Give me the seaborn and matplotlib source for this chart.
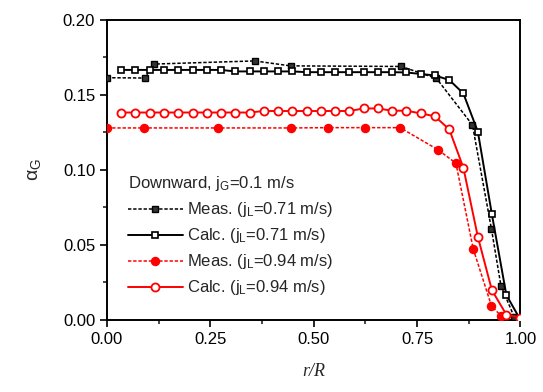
import matplotlib
matplotlib.use("Agg")
import matplotlib.pyplot as plt
import seaborn as sns
import pandas as pd
from matplotlib.ticker import MultipleLocator

# ---------------- data ----------------
calc_r = [0.034, 0.069, 0.103, 0.138, 0.172, 0.207, 0.241, 0.276, 0.310, 0.345,
          0.379, 0.414, 0.448, 0.483, 0.517, 0.552, 0.586, 0.621, 0.655, 0.690,
          0.724, 0.759, 0.793, 0.828, 0.862, 0.897, 0.931, 0.966, 1.000]
calc_071 = [0.1667, 0.1667, 0.1667, 0.1667, 0.1667, 0.1667, 0.1667, 0.1667, 0.1657, 0.1657,
            0.1657, 0.1657, 0.1657, 0.1652, 0.1652, 0.1652, 0.1652, 0.1652, 0.1652, 0.1652,
            0.1650, 0.1640, 0.1630, 0.1600, 0.1510, 0.1256, 0.0704, 0.0166, 0.0000]
calc_094 = [0.1383, 0.1383, 0.1383, 0.1383, 0.1383, 0.1383, 0.1383, 0.1383, 0.1383, 0.1383,
            0.1393, 0.1393, 0.1393, 0.1393, 0.1393, 0.1393, 0.1393, 0.1410, 0.1410, 0.1395,
            0.1395, 0.1377, 0.1358, 0.1270, 0.1015, 0.0555, 0.0198, 0.0035, 0.0015]
meas071_r = [0.0, 0.091, 0.113, 0.357, 0.444, 0.712, 0.797, 0.884, 0.930, 0.953, 0.985]
meas_071 = [0.1615, 0.1613, 0.1706, 0.1727, 0.1694, 0.1690, 0.1610, 0.1300, 0.0605, 0.0226, 0.0020]
meas094_r = [0.0, 0.090, 0.268, 0.446, 0.535, 0.624, 0.709, 0.801, 0.844, 0.886, 0.930, 0.953]
meas_094 = [0.1280, 0.1280, 0.1280, 0.1280, 0.1282, 0.1282, 0.1282, 0.1134, 0.1045, 0.0472, 0.0093, 0.0027]

labels = ["Meas. (j$_\\mathregular{L}$=0.71 m/s)", "Calc. (j$_\\mathregular{L}$=0.71 m/s)",
          "Meas. (j$_\\mathregular{L}$=0.94 m/s)", "Calc. (j$_\\mathregular{L}$=0.94 m/s)"]
legend_title = "Downward, j$_\\mathregular{G}$=0.1 m/s"
x_ticks = [0.00, 0.25, 0.50, 0.75, 1.00]
y_ticks = [0.00, 0.05, 0.10, 0.15, 0.20]

# ---------------- style ----------------
sns.set_style("ticks")
plt.rcParams["font.family"] = ["Liberation Sans", "DejaVu Sans"]
plt.rcParams["mathtext.fontset"] = "custom"
plt.rcParams["mathtext.rm"] = "Liberation Sans"
plt.rcParams["mathtext.it"] = "Liberation Sans:italic"

fig = plt.figure(figsize=(5.43, 3.92), dpi=100)
ax = fig.add_axes([0.197, 0.184, 0.7614, 0.765])

df_m71 = pd.DataFrame({"r": meas071_r, "a": meas_071})
df_c71 = pd.DataFrame({"r": calc_r, "a": calc_071})
df_m94 = pd.DataFrame({"r": meas094_r, "a": meas_094})
df_c94 = pd.DataFrame({"r": calc_r, "a": calc_094})

sns.lineplot(data=df_m71, x="r", y="a", ax=ax, sort=False, color="black", lw=1.1,
             linestyle=(0, (2.2, 1.2)), marker="s", markersize=4.0,
             markerfacecolor="#333333", markeredgecolor="black", markeredgewidth=1.0,
             label=labels[0], zorder=3)
sns.lineplot(data=df_c71, x="r", y="a", ax=ax, sort=False, color="black", lw=1.4,
             marker="s", markersize=4.3, markerfacecolor="white", markeredgecolor="black",
             markeredgewidth=1.2, label=labels[1], zorder=4)
sns.lineplot(data=df_m94, x="r", y="a", ax=ax, sort=False, color="red", lw=1.1,
             linestyle=(0, (2.2, 1.2)), marker="o", markersize=5.8,
             markerfacecolor="red", markeredgecolor="red", markeredgewidth=1.0,
             label=labels[2], zorder=3)
sns.lineplot(data=df_c94, x="r", y="a", ax=ax, sort=False, color="red", lw=1.4,
             marker="o", markersize=5.8, markerfacecolor="white", markeredgecolor="red",
             markeredgewidth=1.3, label=labels[3], zorder=4)

ax.set_xlim(0, 1.0)
ax.set_ylim(0, 0.20)
ax.set_xticks(x_ticks)
ax.set_yticks(y_ticks)
ax.set_xticklabels([f"{v:.2f}" for v in x_ticks])
ax.set_yticklabels([f"{v:.2f}" for v in y_ticks])
ax.xaxis.set_minor_locator(MultipleLocator(0.125))
ax.yaxis.set_minor_locator(MultipleLocator(0.025))
ax.tick_params(which="major", direction="out", length=5, width=1.2, labelsize=12,
               top=False, right=False, colors="black")
ax.tick_params(which="minor", direction="out", length=3, width=1.2, top=False, right=False)
for s in ax.spines.values():
    s.set_linewidth(1.4)
    s.set_color("black")
    s.set_visible(True)

ax.set_xlabel("r/R", family="Liberation Serif", style="italic", fontsize=13, labelpad=12)
ax.set_ylabel("α$_\\mathregular{G}$", fontsize=14, labelpad=14)

leg = ax.legend(title=legend_title, loc="upper left", bbox_to_anchor=(0.05, 0.485),
                frameon=False, fontsize=12, title_fontsize=12, handlelength=3.3,
                handletextpad=0.25, labelspacing=0.42, borderpad=0, borderaxespad=0)
leg._legend_box.align = "left"

fig.savefig("out.png", dpi=100)
